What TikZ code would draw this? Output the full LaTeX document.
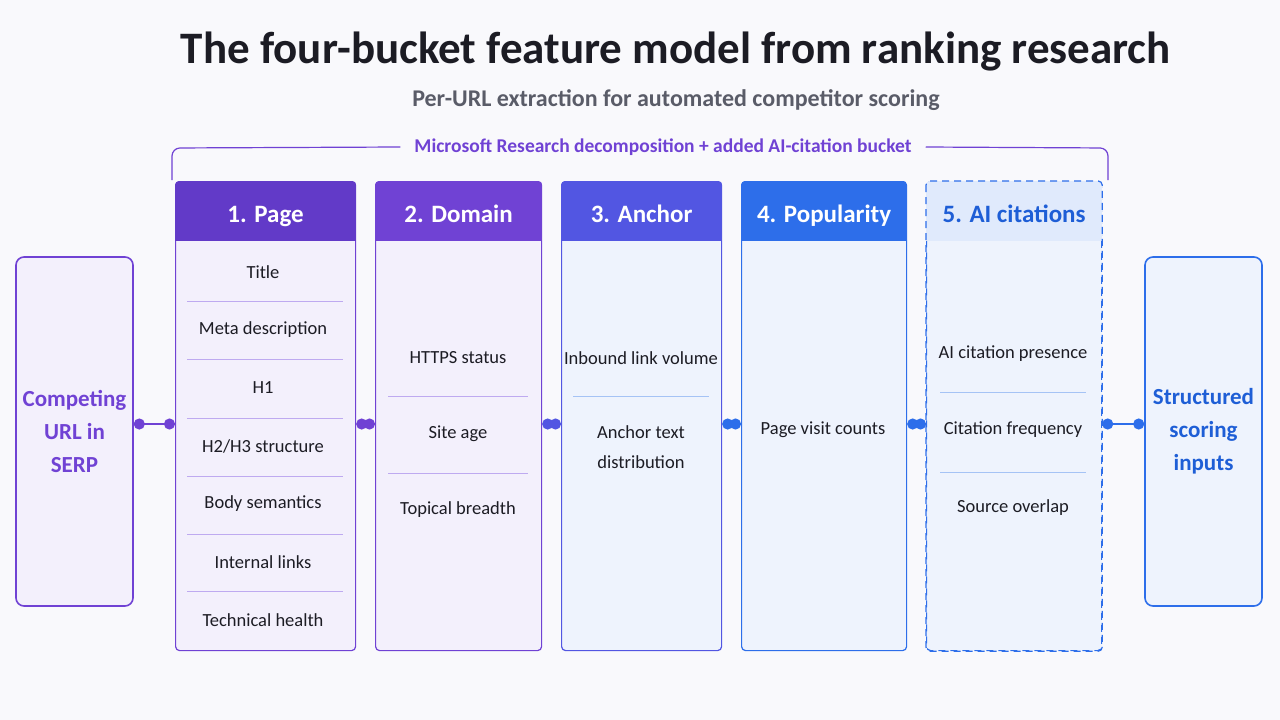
\documentclass[tikz,border=0pt]{standalone}
\usepackage{fontspec}
\setmainfont{Carlito}
\usepackage{tikz}
\usetikzlibrary{arrows.meta,positioning}
\definecolor{bgwhite}{RGB}{249,249,252}
\definecolor{dfink}{RGB}{28,28,36}
\definecolor{dfgrey}{RGB}{90,92,104}
\definecolor{dfpurple}{RGB}{98,58,200}
\definecolor{dfpurple2}{RGB}{112,66,212}
\definecolor{dfindigo}{RGB}{82,86,226}
\definecolor{dfblue}{RGB}{45,110,234}
\definecolor{dfbluetext}{RGB}{30,94,214}
\definecolor{dflav}{RGB}{243,240,252}
\definecolor{dflavline}{RGB}{190,170,240}
\definecolor{dflightblue}{RGB}{238,243,253}
\definecolor{dfblueline}{RGB}{165,195,245}
\definecolor{dfhead5}{RGB}{224,234,252}
\tikzstyle{bucket} = [rectangle, rounded corners=4pt, anchor=north west, line width=1.2pt]
\tikzstyle{endbox} = [rectangle, rounded corners=8pt, minimum width=117pt, minimum height=349pt, line width=1.6pt, align=center, font=\fontsize{23}{33}\selectfont\bfseries]
\tikzstyle{item} = [font=\fontsize{18.5}{30}\selectfont, text=dfink, align=center]
\tikzstyle{head} = [font=\fontsize{25}{28}\selectfont\bfseries, text=white, anchor=base]
\tikzstyle{link} = [line width=2pt, {Circle[length=11pt]}-{Circle[length=11pt]}]

\begin{document}
\begin{tikzpicture}[x=1pt, y=-1pt]
\fill[bgwhite] (0,0) rectangle (1280,720);
\useasboundingbox (0,0) rectangle (1280,720);

% Title
\node[font=\fontsize{45}{48}\selectfont\bfseries, text=dfink] (title) at (676,52) {The four-bucket feature model from ranking research};
\node[font=\fontsize{24}{26}\selectfont\bfseries, text=dfgrey] (subtitle) at (676,100) {Per-URL extraction for automated competitor scoring};

% Bracket
\node[font=\fontsize{19.5}{22}\selectfont\bfseries, text=dfpurple2, inner xsep=14pt] (brace) at (663,147) {Microsoft Research decomposition + added AI-citation bucket};
\draw[dfpurple2, line width=1.2pt, rounded corners=8pt] (172,180) -- (172,148) -- (brace.west);
\draw[dfpurple2, line width=1.2pt, rounded corners=8pt] (brace.east) -- (1108,148) -- (1108,180);

% End boxes
\node[endbox, draw=dfpurple2, fill=dflav, text=dfpurple2] (url) at (74.5,431.5) {Competing\\URL in\\SERP};
\node[endbox, draw=dfblue, fill=dflightblue, text=dfbluetext] (out) at (1203.5,431.5) {Structured\\scoring\\inputs};

% Buckets
\node[bucket, draw=dfpurple2, fill=dflav, minimum width=180pt, minimum height=469pt] (b1) at (175,181) {};
\node[bucket, draw=dfpurple2, fill=dflav, minimum width=166pt, minimum height=469pt] (b2) at (375,181) {};
\node[bucket, draw=dfindigo, fill=dflightblue, minimum width=160pt, minimum height=469pt] (b3) at (561,181) {};
\node[bucket, draw=dfblue, fill=dflightblue, minimum width=165pt, minimum height=469pt] (b4) at (741,181) {};
\node[bucket, draw=dfblue, fill=dflightblue, dashed, dash pattern=on 7pt off 5pt, minimum width=175pt, minimum height=469pt] (b5) at (926,181) {};

% Headers
\foreach \b/\c in {b1/dfpurple, b2/dfpurple2, b3/dfindigo, b4/dfblue, b5/dfhead5} {
  \begin{scope}
    \clip[rounded corners=4pt] (\b.north west) rectangle (\b.south east);
    \fill[\c] (\b.north west) rectangle ([yshift=-60pt]\b.north east);
  \end{scope}
}
\draw[dfblue, line width=1.2pt, dashed, dash pattern=on 7pt off 5pt, rounded corners=4pt] (b5.north west) rectangle (b5.south east);
\node[head] (h1) at ([yshift=-41pt]b1.north) {1. Page};
\node[head] (h2) at ([yshift=-41pt]b2.north) {2. Domain};
\node[head] (h3) at ([yshift=-41pt]b3.north) {3. Anchor};
\node[head] (h4) at ([yshift=-41pt]b4.north) {4. Popularity};
\node[head, text=dfbluetext] (h5) at ([yshift=-41pt]b5.north) {5. AI citations};

% Items
\foreach \t [count=\i] in {Title, Meta description, H1, H2/H3 structure, Body semantics, Internal links, Technical health}
  \node[item] (p\i) at (263,214+58*\i) {\t};
\foreach \y in {301,359,418,476,534,591}
  \draw[dflavline, line width=1pt] (187,\y) -- (343,\y);

\node[item] (d1) at (458,358) {HTTPS status};
\node[item] (d2) at (458,434) {Site age};
\node[item] (d3) at (458,510) {Topical breadth};
\foreach \y in {396,473}
  \draw[dflavline, line width=1pt] (388,\y) -- (528,\y);

\node[item] (a1) at (641,358) {Inbound link volume};
\node[item] (a2) at (641,447) {Anchor text\\distribution};
\draw[dfblueline, line width=1pt] (573,396) -- (709,396);

\node[item] (v1) at (823,430) {Page visit counts};

\node[item] (c1) at (1013,354) {AI citation presence};
\node[item] (c2) at (1013,430) {Citation frequency};
\node[item] (c3) at (1013,508) {Source overlap};
\foreach \y in {392,472}
  \draw[dfblueline, line width=1pt] (940,\y) -- (1086,\y);

% Connectors
\draw[link, dfpurple2] (url.east |- 0,424) -- (b1.west |- 0,424);
\draw[link, dfpurple2] (b1.east |- 0,424) -- (b2.west |- 0,424);
\draw[link, dfindigo] (b2.east |- 0,424) -- (b3.west |- 0,424);
\draw[link, dfblue] (b3.east |- 0,424) -- (b4.west |- 0,424);
\draw[link, dfblue] (b4.east |- 0,424) -- (b5.west |- 0,424);
\draw[link, dfblue] (b5.east |- 0,424) -- (out.west |- 0,424);
\end{tikzpicture}
\end{document}
